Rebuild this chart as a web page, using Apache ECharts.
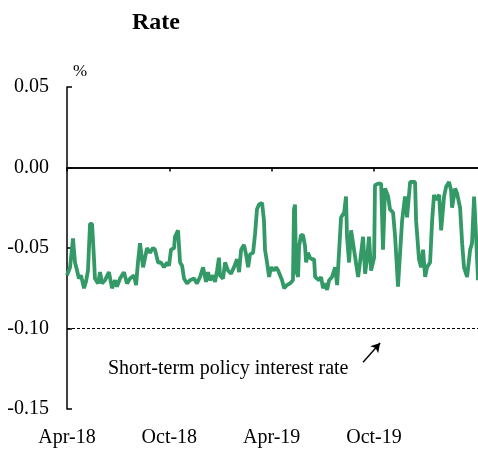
<!DOCTYPE html>
<html>
<head>
<meta charset="utf-8">
<script src="https://cdn.jsdelivr.net/npm/echarts@6/dist/echarts.min.js"></script>
<style>
html,body{margin:0;padding:0;background:#fff;}
#chart{width:478px;height:450px;}
</style>
</head>
<body>
<div id="chart"></div>
<script>
// months since Apr-2018
const months = [0,0.18,0.35,0.47,0.59,0.70,0.82,1.00,1.11,1.23,1.35,1.47,1.58,1.64,1.82,1.94,2.05,2.23,2.46,2.64,2.82,2.93,3.11,3.34,3.52,3.70,3.93,4.05,
4.16,4.28,4.46,4.58,4.69,4.87,5.04,5.16,5.34,5.51,5.69,5.87,5.98,6.10,6.28,6.33,6.51,6.63,6.75,6.86,7.04,7.21,7.45,7.62,7.80,7.98,8.15,
8.27,8.39,8.56,8.68,8.80,8.91,8.97,9.15,9.27,9.44,9.62,9.79,9.97,10.09,10.21,10.38,10.50,10.62,10.73,10.91,11.03,11.14,11.26,11.44,11.55,11.61,11.73,11.85,11.96,12.14,12.26,
12.38,12.49,12.61,12.73,12.90,13.08,13.25,13.31,13.37,13.43,13.55,13.61,13.72,13.84,13.96,14.02,14.13,14.25,14.37,14.49,14.55,14.66,14.78,14.90,15.01,15.13,15.25,15.37,15.54,15.72,15.84,15.95,16.07,16.25,16.36,
16.42,16.54,16.66,16.83,17.07,17.18,17.36,17.48,17.60,17.71,17.83,18.01,18.06,18.24,18.42,18.53,18.65,18.83,18.94,19.12,19.24,19.41,19.53,19.65,19.82,19.94,20.12,
20.29,20.41,20.47,20.64,20.76,20.88,21.00,21.11,21.29,21.41,21.52,21.64,21.82,21.94,22.11,22.23,22.40,22.52,22.58,22.76,22.87,23.05,23.17,23.28,23.46,23.64,23.75,23.87,23.99,24.10];
const rates = [-0.067,-0.062,-0.044,-0.059,-0.064,-0.069,-0.067,-0.075,-0.071,-0.064,-0.035,-0.035,-0.056,-0.069,-0.072,-0.065,-0.072,-0.070,-0.065,-0.075,-0.070,-0.074,-0.069,-0.065,-0.072,-0.069,-0.067,-0.073,
-0.059,-0.047,-0.062,-0.056,-0.050,-0.053,-0.050,-0.051,-0.059,-0.059,-0.062,-0.059,-0.061,-0.051,-0.050,-0.043,-0.039,-0.059,-0.061,-0.069,-0.072,-0.070,-0.069,-0.072,-0.068,-0.062,-0.071,
-0.065,-0.070,-0.067,-0.071,-0.064,-0.056,-0.067,-0.069,-0.059,-0.064,-0.066,-0.062,-0.057,-0.065,-0.051,-0.048,-0.054,-0.062,-0.054,-0.053,-0.041,-0.026,-0.023,-0.022,-0.033,-0.051,-0.059,-0.068,-0.062,-0.064,-0.062,
-0.064,-0.065,-0.070,-0.075,-0.073,-0.072,-0.070,-0.026,-0.023,-0.064,-0.068,-0.049,-0.042,-0.042,-0.049,-0.059,-0.053,-0.056,-0.057,-0.057,-0.068,-0.067,-0.070,-0.068,-0.075,-0.072,-0.076,-0.070,-0.068,-0.062,-0.073,-0.072,-0.031,-0.028,-0.018,
-0.043,-0.059,-0.039,-0.051,-0.068,-0.059,-0.043,-0.066,-0.056,-0.043,-0.064,-0.056,-0.011,-0.010,-0.010,-0.051,-0.013,-0.018,-0.026,-0.028,-0.043,-0.074,-0.053,-0.033,-0.018,-0.031,-0.009,
-0.009,-0.009,-0.033,-0.057,-0.062,-0.051,-0.068,-0.062,-0.059,-0.033,-0.017,-0.020,-0.017,-0.039,-0.018,-0.012,-0.009,-0.014,-0.025,-0.013,-0.016,-0.025,-0.047,-0.062,-0.068,-0.051,-0.047,-0.018,-0.043,-0.070];
const xTickValues = [0, 6, 12, 18];
const xTickLabels = ['Apr-18', 'Oct-18', 'Apr-19', 'Oct-19'];
const policyRate = -0.10;
const arrowStart = [17.36, -0.121];
const arrowEnd = [18.36, -0.109];

const serif = "'Liberation Serif', 'Times New Roman', serif";
const chart = echarts.init(document.getElementById('chart'), null, {renderer: 'canvas'});
chart.setOption({
  animation: false,
  backgroundColor: '#fff',
  title: {
    text: 'Rate', left: 127, top: 6,
    textStyle: {fontFamily: serif, fontWeight: 'bold', fontSize: 24, color: '#000'}
  },
  grid: {left: 67, right: 0, top: 87, bottom: 41, containLabel: false},
  xAxis: {
    type: 'value', min: 0, max: 24.1, interval: 6,
    axisLine: {show: true, lineStyle: {color: '#000', width: 1.5}},
    axisTick: {show: true, inside: false, length: 4, customValues: xTickValues, lineStyle: {color: '#000', width: 1.5}},
    axisLabel: {
      customValues: xTickValues,
      formatter: v => { const i = xTickValues.indexOf(Math.round(v)); return i >= 0 ? xTickLabels[i] : ''; },
      fontFamily: serif, fontSize: 20, color: '#000', margin: 19
    },
    splitLine: {show: false}
  },
  yAxis: {
    type: 'value', min: -0.15, max: 0.05, interval: 0.05,
    axisLine: {show: true, onZero: false, lineStyle: {color: '#000', width: 1.5}},
    axisTick: {show: true, inside: true, length: 5, lineStyle: {color: '#000', width: 1.5}},
    axisLabel: {formatter: v => (Math.abs(v) < 1e-9 ? 0 : v).toFixed(2), fontFamily: serif, fontSize: 20, color: '#000', margin: 18},
    splitLine: {show: false}
  },
  graphic: [
    {type: 'text', left: 73, top: 63, style: {text: '%', font: "17px 'Liberation Serif'", fill: '#000'}},
    {type: 'text', left: 108, top: 359, style: {text: 'Short-term policy interest rate', font: "20px 'Liberation Serif'", fill: '#000'}}
  ],
  series: [{
    type: 'line',
    data: months.map((m, i) => [m, rates[i]]),
    showSymbol: false,
    symbol: 'none',
    clip: false,
    lineStyle: {color: '#339966', width: 3.8},
    itemStyle: {color: '#339966'},
    markLine: {
      silent: true,
      symbol: 'none',
      label: {show: false},
      data: [
        {yAxis: 0, lineStyle: {color: '#000', width: 1.5, type: 'solid'}},
        {yAxis: policyRate, lineStyle: {color: '#000', width: 1, type: [3, 2]}},
        [
          {coord: arrowStart, symbol: 'none', lineStyle: {color: '#000', width: 1.4, type: 'solid'}},
          {coord: arrowEnd, symbol: 'arrow', symbolSize: [8, 9]}
        ]
      ]
    }
  }]
});
</script>
</body>
</html>
